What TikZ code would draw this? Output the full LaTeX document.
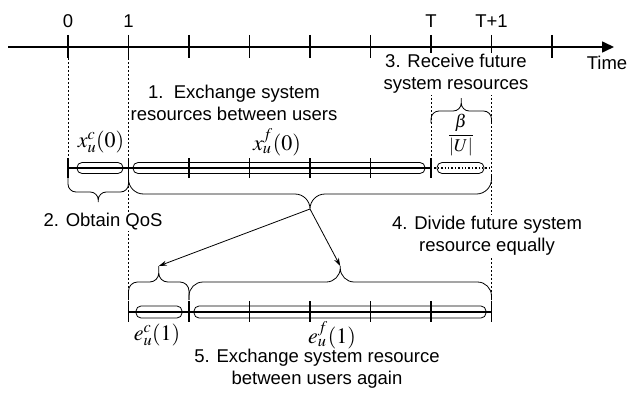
\documentclass[tikz,border=0pt]{standalone}
\usepackage{mathptmx}
\usepackage[no-math]{fontspec}
\setmainfont{Liberation Sans}
\usetikzlibrary{arrows.meta,positioning}
% brace drawn from two rounded halves: [radius]{x left}{x right}{y ends}{y middle}{y tip}
\newcommand\bracepath[6][8pt]{
\draw[bracel=#1] (#2,#4) -- (#2,#5) -- ({(#2+#3)/2},#5) -- ({(#2+#3)/2},#6)
  (#3,#4) -- (#3,#5) -- ({(#2+#3)/2},#5) -- ({(#2+#3)/2},#6);}

\begin{document}
\begin{tikzpicture}[x=1pt,y=-1pt,
  axisline/.style={line width=1.6pt},
  guide/.style={line width=0.7pt,dash pattern=on 2pt off 2pt},
  capsule/.style={line width=0.8pt,rounded corners=5pt},
  bracel/.style={line width=0.8pt,rounded corners=#1},
  bracel/.default=8pt,
  txt/.style={fill=white,inner sep=1pt,align=center,font=\fontsize{18.5}{22}\selectfont},
  mathlbl/.style={inner sep=0pt,font=\fontsize{22}{26}\selectfont},
  link/.style={line width=0.8pt,-{Stealth[length=8pt,width=5pt]}}]
\useasboundingbox (0,0) rectangle (628,396);

% dashed guides
\draw[guide] (68,58) -- (68,158);
\draw[guide] (128.5,58) -- (128.5,300);
\draw[guide] (431,58) -- (431,158);
\draw[guide] (491.5,58) -- (491.5,300);

% time axis
\draw[axisline,-{Triangle[length=12pt,width=11pt]}] (8,47) -- (614,47);
\foreach \i in {0,...,8}
  \draw[axisline] ({68+60.5*\i},35) -- ({68+60.5*\i},58);

% allocation at time 0
\draw[axisline] (68,168) -- (431,168);
\foreach \i in {0,...,6}
  \draw[axisline] ({68+60.5*\i},158) -- ({68+60.5*\i},178);
\draw[line width=1.4pt,dotted] (431,168) -- (491.5,168);
\draw[capsule] (77,162.5) rectangle (123,173.5);
\draw[capsule] (133,162.5) rectangle (425,173.5);
\draw[capsule] (437,162.5) rectangle (484,173.5);

% allocation at time 1
\draw[axisline] (128.5,312) -- (491.5,312);
\foreach \i in {1,...,7}
  \draw[axisline] ({68+60.5*\i},301) -- ({68+60.5*\i},322);
\draw[capsule] (136,306) rectangle (182,318);
\draw[capsule] (194,306) rectangle (486,318);

% braces
\bracepath{68}{128.5}{178}{192}{202}
\bracepath[15pt]{128.5}{491.5}{175}{194}{209}
\bracepath{431}{491.5}{123}{111}{98}
\bracepath[9pt]{128.5}{189}{300}{282}{266}
\bracepath[14pt]{189}{491.5}{300}{282}{266}
\coordinate (splittip) at (310,209);
\coordinate (ctip) at (158.75,266);
\coordinate (ftip) at (340.25,266);
\draw[link] (splittip) -- (ctip);
\draw[link] (splittip) -- (ftip);

% texts
\node[txt] (t0) at (68,21) {0};
\node[txt] (t1) at (128.5,21) {1};
\node[txt] (tT) at (431,21) {T};
\node[txt] (tT1) at (491.5,21) {T+1};
\node[txt] (time) at (607,63) {Time};
\node[txt] (step1) at (234,103) {1.\ \ Exchange system\\resources between users};
\node[txt] (step2) at (103,222) {2. Obtain QoS};
\node[txt] (step3) at (456,74) {3. Receive future\\system resources};
\node[txt] (step4) at (487,236) {4. Divide future system\\resource equally};
\node[txt] (step5) at (317,369) {5. Exchange system resource\\between users again};

\node[mathlbl] (xc) at (101,142) {$x_u^c(0)$};
\node[mathlbl] (xf) at (277,142) {$x_u^f(0)$};
\node[mathlbl,font=\fontsize{18}{22}\selectfont] (share) at (461,135) {$\displaystyle\frac{\beta}{|U|}$};
\node[mathlbl] (ec) at (157,335) {$e_u^c(1)$};
\node[mathlbl] (ef) at (332,335) {$e_u^f(1)$};
\end{tikzpicture}
\end{document}
